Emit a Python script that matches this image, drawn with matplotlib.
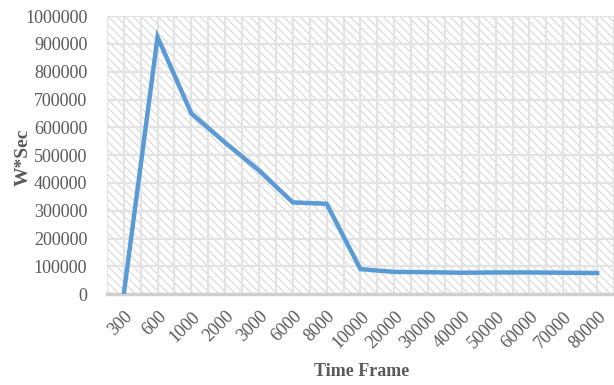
import matplotlib.pyplot as plt
from matplotlib.patches import Rectangle
import numpy as np

plt.rcParams['font.family'] = ['Liberation Serif', 'DejaVu Serif']
plt.rcParams['hatch.color'] = '#d4d4d4'
plt.rcParams['hatch.linewidth'] = 0.7

time_frames = ["300", "600", "1000", "2000", "3000", "6000", "8000", "10000",
               "20000", "30000", "40000", "50000", "60000", "70000", "80000"]
energy = [0, 925000, 650000, 545000, 445000, 330000, 325000, 90000,
          80000, 79000, 77000, 78000, 78000, 77000, 76000]

fig = plt.figure(figsize=(6.14, 3.85), dpi=100)
ax = fig.add_axes([0.174, 0.236, 0.826, 0.722])

x = np.arange(len(time_frames))
ax.set_xlim(-0.5, len(time_frames) - 0.5)
ax.set_ylim(0, 1000000)

# hatched plot area
ax.add_patch(Rectangle((0, 0), 1, 1, transform=ax.transAxes, facecolor='white',
                       edgecolor='#d4d4d4', hatch='\\\\\\\\', lw=0, zorder=0))

# grid: horizontal every 100000, vertical every half category
for yv in np.arange(100000, 1000001, 100000):
    ax.axhline(yv, color='#e3e3e3', lw=1.6, zorder=1)
for xv in np.arange(-0.5, len(time_frames), 0.5):
    ax.axvline(xv, color='#e3e3e3', lw=1.6, zorder=1)

ax.plot(x, energy, color='#5B9BD5', lw=3.2, solid_joinstyle='miter', zorder=3)

for s in ['top', 'right', 'left']:
    ax.spines[s].set_visible(False)
ax.spines['bottom'].set_color('#d0d0d0')
ax.spines['bottom'].set_linewidth(2.5)

ax.set_yticks(np.arange(0, 1000001, 100000))
ax.set_yticklabels([str(v) for v in range(0, 1000001, 100000)])
ax.set_xticks(x)
ax.set_xticklabels(time_frames, rotation=45, ha='right', rotation_mode='anchor')
ax.tick_params(axis='both', length=0, labelsize=13, labelcolor='#595959')
ax.tick_params(axis='x', pad=10)
ax.tick_params(axis='y', pad=14)

ax.set_xlabel("Time Frame", fontsize=13, fontweight='bold', color='#595959')
ax.set_ylabel("W*Sec", fontsize=14, fontweight='bold', color='#595959')
ax.xaxis.set_label_coords(0.502, -0.248)
ax.yaxis.set_label_coords(-0.148, 0.493)

fig.savefig("out.png", dpi=100)
